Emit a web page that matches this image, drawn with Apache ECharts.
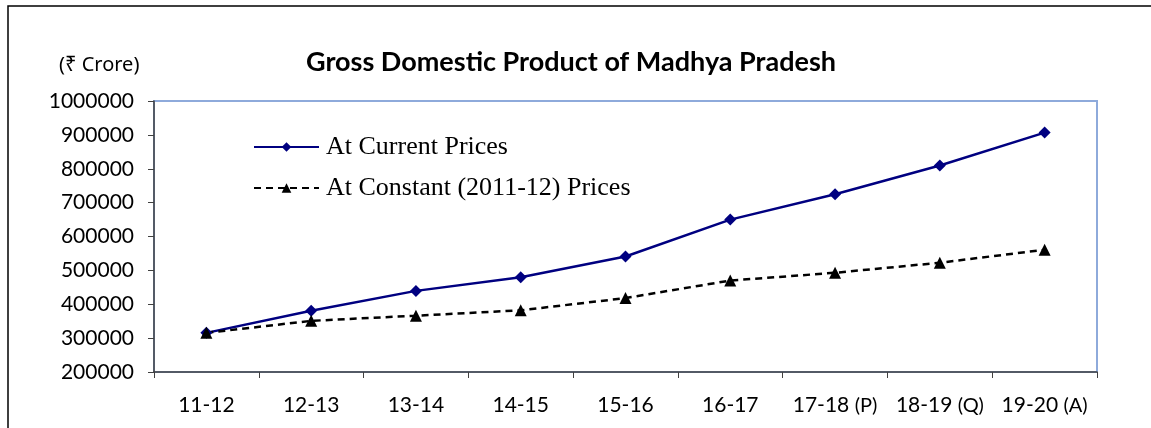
<!DOCTYPE html>
<html>
<head>
<meta charset="utf-8">
<script src="https://cdn.jsdelivr.net/npm/echarts@6/dist/echarts.min.js"></script>
<style>
  html, body { margin: 0; padding: 0; background: #fff; }
  #chart { width: 1151px; height: 428px; }
</style>
</head>
<body>
<div id="chart"></div>
<script>
  /*-----GSDP of Madhya Pradesh-----*/
  var years = ['11-12', '12-13', '13-14', '14-15', '15-16', '16-17', '17-18|P', '18-19|Q', '19-20|A'];
  var currentPrices = [315562, 380925, 439483, 479939, 541068, 649823, 724729, 809592, 906672];
  var constantPrices = [315562, 351013, 366262, 382144, 418210, 470036, 492914, 522576, 560844];
  var yMin = 200000, yMax = 1000000, yStep = 100000;

  var font = 'Lato, "Open Sans", sans-serif';

  var chart = echarts.init(document.getElementById('chart'));

  var option = {
    backgroundColor: '#fff',
    animation: false,
    title: {
      text: 'Gross Domestic Product of Madhya Pradesh',
      left: 566,
      textAlign: 'center',
      top: 44,
      textStyle: { fontFamily: font, fontSize: 27, fontWeight: 'bold', color: '#000' }
    },
    graphic: [
      {
        type: 'rect',
        shape: { x: 8, y: 6, width: 1160, height: 440 },
        style: { fill: 'none', stroke: '#000', lineWidth: 1.5 },
        silent: true
      },
      {
        type: 'text',
        left: 59, top: 55,
        style: { text: '(\u20B9 Crore)', font: '20px "Noto Sans", "DejaVu Sans", sans-serif', fill: '#000' }
      }
    ],
    legend: {
      orient: 'vertical',
      left: 248,
      top: 129,
      itemGap: 15,
      itemWidth: 65,
      itemHeight: 12,
      textStyle: { fontFamily: '"Liberation Serif", serif', fontSize: 26, color: '#000', padding: [0, 0, 0, 2] },
      data: ['At Current Prices', 'At Constant (2011-12) Prices']
    },
    grid: {
      left: 154,
      right: 54,
      top: 101,
      bottom: 56,
      show: true,
      borderColor: '#8eaadb',
      borderWidth: 2
    },
    xAxis: {
      type: 'category',
      data: years,
      boundaryGap: true,
      axisLine: { lineStyle: { color: '#404040', width: 1.5 } },
      axisTick: { show: true, length: 6, lineStyle: { color: '#404040' } },
      axisLabel: {
        margin: 23,
        fontFamily: font,
        fontSize: 21,
        color: '#000',
        interval: 0,
        formatter: function (v) {
          var p = v.split('|');
          return p.length > 1 ? p[0] + ' {s|(' + p[1] + ')}' : p[0];
        },
        rich: { s: { fontFamily: font, fontSize: 20, color: '#000' } }
      }
    },
    yAxis: {
      type: 'value',
      min: yMin,
      max: yMax,
      interval: yStep,
      splitLine: { show: false },
      axisLine: { show: true, lineStyle: { color: '#404040', width: 1.5 } },
      axisTick: { show: true, length: 6, lineStyle: { color: '#404040' } },
      axisLabel: {
        margin: 20,
        fontFamily: font,
        fontSize: 21,
        color: '#000',
        formatter: function (v) { return String(v); }
      }
    },
    series: [
      {
        name: 'At Current Prices',
        type: 'line',
        data: currentPrices,
        symbol: 'diamond',
        symbolSize: 12,
        color: '#000080',
        lineStyle: { color: '#000080', width: 2.5 },
        itemStyle: { color: '#000080' }
      },
      {
        name: 'At Constant (2011-12) Prices',
        type: 'line',
        data: constantPrices,
        symbol: 'triangle',
        symbolSize: 12,
        color: '#000',
        lineStyle: { color: '#000', width: 2.5, type: [7, 5] },
        itemStyle: { color: '#000' }
      }
    ]
  };

  chart.setOption(option);
</script>
</body>
</html>
